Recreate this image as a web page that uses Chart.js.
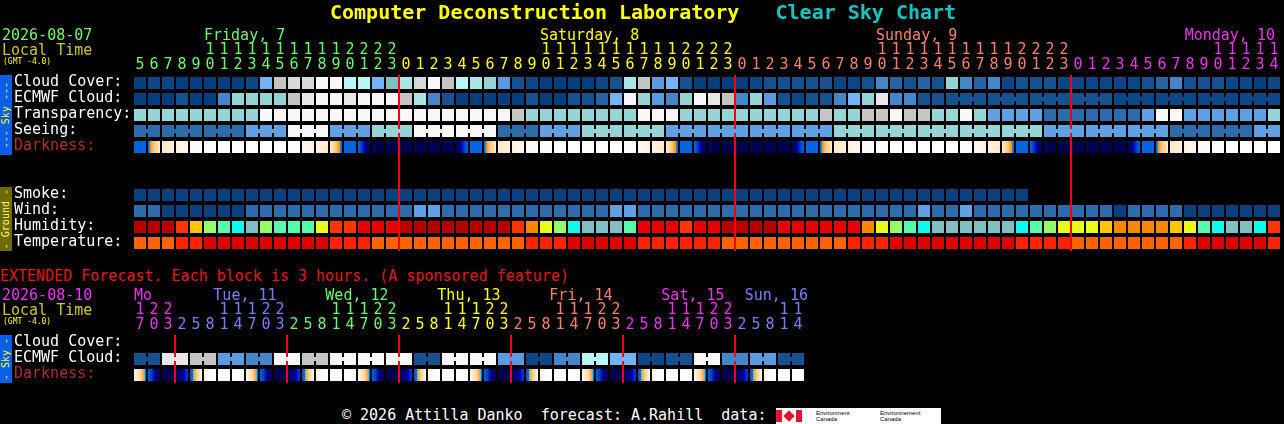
<!DOCTYPE html>
<html>
<head>
<meta charset="utf-8">
<title>Clear Sky Chart</title>
<script src="https://cdn.jsdelivr.net/npm/chart.js"></script>
<style>
  html, body { margin:0; padding:0; background:#000; }
  body { width:1284px; height:424px; position:relative; overflow:hidden; font-family:"DejaVu Sans Mono", monospace; }
  .t { position:absolute; white-space:pre; line-height:1; font-size:15px; }
  .side { position:absolute; left:0; width:12px; display:flex; align-items:center; justify-content:center; overflow:hidden; }
  .side span { writing-mode:vertical-rl; transform:rotate(180deg); font-size:10px; line-height:12px; white-space:pre; }
  .cw { position:absolute; left:0; }
</style>
</head>
<body>
<div class="side" style="top:75px;height:80px;background:#0A5FE8"><span style="color:#FFFF00">--- Sky ---</span></div>
<div class="side" style="top:187px;height:64px;background:#6B6B08"><span style="color:#FFFF66">- Ground -</span></div>
<div class="side" style="top:335px;height:48px;background:#0A5FE8"><span style="color:#FFFF00">- Sky -</span></div>

<div class="cw" style="top:0;width:1284px;height:263px"><canvas id="hourly"></canvas></div>
<div class="cw" style="top:290px;width:810px;height:105px"><canvas id="extended"></canvas></div>

<div class="t" style="left:330px;top:2px;font-size:20px;font-weight:bold;color:#FFFF00">Computer Deconstruction Laboratory   <span style="color:#12C6C6">Clear Sky Chart</span></div>
<div class="t" style="left:2px;top:28px;color:#66FF66">2026-08-07</div>
<div class="t" style="left:2px;top:43px;color:#CCCC00">Local Time</div>
<div class="t" style="left:3px;top:58px;font-size:8px;color:#FFFF00">(GMT -4.0)</div>

<div class="t" style="left:0;top:269px;color:#EE1111">EXTENDED Forecast. Each block is 3 hours. (A sponsored feature)</div>
<div class="t" style="left:2px;top:288px;color:#F030F0">2026-08-10</div>
<div class="t" style="left:2px;top:303px;color:#CCCC00">Local Time</div>
<div class="t" style="left:3px;top:318px;font-size:8px;color:#FFFF00">(GMT -4.0)</div>

<div class="t" style="left:342px;top:408px;color:#FFFFFF">© 2026 Attilla Danko  forecast: A.Rahill  data: </div>
<div style="position:absolute;left:776px;top:408px;width:165px;height:16px;background:#FFFFFF;overflow:hidden">
  <div style="position:absolute;left:0;top:2px;width:6px;height:12px;background:#E8112D"></div>
  <div style="position:absolute;left:9px;top:4px;width:8px;height:8px;background:#E8112D;transform:rotate(45deg)"></div>
  <div style="position:absolute;left:20px;top:2px;width:6px;height:12px;background:#E8112D"></div>
  <div class="t" style="left:40px;top:2px;font-size:6px;line-height:6px;color:#000;font-family:'Liberation Sans',sans-serif">Environment<br>Canada</div>
  <div class="t" style="left:104px;top:2px;font-size:6px;line-height:6px;color:#000;font-family:'Liberation Sans',sans-serif">Environnement<br>Canada</div>
</div>

<script>
// ---------------- DATA ----------------
// Hourly section: local hour of each column (Fri 7 05h ... Mon 10 14h)
const hours = [5,6,7,8,9,10,11,12,13,14,15,16,17,18,19,20,21,22,23,
  0,1,2,3,4,5,6,7,8,9,10,11,12,13,14,15,16,17,18,19,20,21,22,23,
  0,1,2,3,4,5,6,7,8,9,10,11,12,13,14,15,16,17,18,19,20,21,22,23,
  0,1,2,3,4,5,6,7,8,9,10,11,12,13,14];
const dayNames = ['Friday, 7', 'Saturday, 8', 'Sunday, 9', 'Monday, 10'];
const rowLabels = ['Cloud Cover:', 'ECMWF Cloud:', 'Transparency:', 'Seeing:', 'Darkness:', '', '', 'Smoke:', 'Wind:', 'Humidity:', 'Temperature:'];

// Cloud cover shade (0 = clear ... 14 = overcast), one per hour
const cloudCover = [0,1,1,0,0,0,0,0,1,6, 11,12,12,14,14,10,10,6,7,9, 12,14,11,10,9,8,5,2,1,0,
  0,0,0,1,2,9,11,5,6,2, 0,0,0,0,1,2,2,2,2,2, 1,1,2,4,3,2,3,2,8,4,
  3,4,1,2,2,2,1,1,1,1, 1,1,2,3,4,2,2,2,1,1, 0,1];
// ECMWF cloud shade: hourly for the first 58 hours, then 3-hour steps
const ecmwfHourly = [0,0,0,2,0,0,4,8,8,8, 8,11,13,14,14,13,14,14,14,11, 9,4,2,0,0,0,0,0,2,0,
  0,2,2,3,6,14,8,5,4,8, 14,13,11,4,8,5,2,1,2,2, 4,6,8,13,4,4,2,2];
const ecmwf3h = [2,2,2,2,1,1,1,1];
// Transparency (0 too cloudy, 1 poor, 2 below avg, 3 average, 4 above avg, 5 transparent)
const transparency = [2,2,2,2,2,2,2,2,2,0, 0,0,0,0,0,0,0,0,0,0, 0,0,0,0,0,0,0,1,2,2,
  2,2,2,2,2,2,0,0,0,2, 2,2,2,2,2,2,2,2,2,1, 2,2,1,1,0,1,1,2,2,0,
  2,3,3,3,3,4,4,4,4,4, 4,4,3,0,0,3,3,3,3,3, 3,2];
// Seeing per 3-hour forecast step (0 too cloudy ... 5 excellent)
const seeing3h = [4,4,4,3,0,3,2,0,0,4,3,2,2,3,3,3,3,2,2,2,2,2,3,3,3,4,4,3];
// Darkness: limiting magnitude at the start of each hour (negative = daylight/twilight)
const darkness = [2.5,2.5,-1.5,-2.5,-3.2,-3.7,-4,-4,-4,-4,-4,-4,-3.3,-2.5,-1.5,2.5,2.5,6,6,
  6,6,6,6,6,2.5,2.5,-1.5,-2.5,-3.2,-3.7,-4,-4,-4,-4,-4,-4,-3.3,-2.5,-1.5,2.5,2.5,6,6,
  6,6,6,6,6,2.5,2.5,-1.5,-2.5,-3.2,-3.7,-4,-4,-4,-4,-4,-4,-3.3,-2.5,-1.5,2.5,2.5,6,6,
  6,6,6,6,6,2.5,2.5,-1.5,-2.5,-3.2,-3.7,-4,-4,-4,-4];
// Smoke (ug/m3), forecast stops after 64 hours
const smoke = [0,0,0,0,0,0,0,0,0,0, 0,0,0,0,0,0,0,0,0,0, 0,0,0,0,0,0,0,0,0,0,
  0,0,0,0,0,0,0,0,0,0, 0,0,0,0,0,0,0,0,0,0, 0,0,0,0,0,0,0,0,0,0, 0,0,0,0];
// Wind (mph)
const wind = [9,9,4,4,4,4,4,4,9,9, 9,9,9,9,9,9,9,9,9,9, 14,14,9,9,9,9,9,9,9,9,
  9,9,9,9,14,14,9,9,9,9, 9,9,9,9,9,9,9,9,9,9, 9,9,9,9,9,9,14,9,9,14,
  9,9,9,9,9,9,9,9,9,9, 4,9,9,9,9,4,4,4,4,4, 4,4];
// Humidity (%)
const humidity = [93,93,93,83,73,63,58,53,48,63, 58,58,58,68,83,83,88,88,88,93,
  93,93,93,93,93,93,93,83,78,68, 63,53,48,48,48,58,88,88,88,83,
  88,88,93,93,93,93,88,88,88,88, 88,88,78,68,63,58,53,48,48,48,
  48,48,48,53,58,63,68,68,68,73, 78,78,78,78,73,68,58,53,48,48, 53,83];
// Temperature (F)
const temperature = [77,77,77,82,82,87,87,87,87,87, 87,87,87,87,82,82,82,77,77,77,
  77,77,77,77,77,77,77,77,82,82, 82,87,87,87,87,87,82,82,82,82,
  82,82,77,77,77,77,77,77,77,77, 77,82,82,82,87,87,87,87,87,87,
  87,87,87,82,82,82,82,77,77,77, 77,77,77,77,77,82,87,87,87,87, 87,82];

// Extended section: 3-hour blocks (Mon 10 17h ... Sun 16 14h)
const extHours = [17,20,23,
  2,5,8,11,14,17,20,23, 2,5,8,11,14,17,20,23, 2,5,8,11,14,17,20,23,
  2,5,8,11,14,17,20,23, 2,5,8,11,14,17,20,23, 2,5,8,11,14];
const extDayNames = ['Mo', 'Tue, 11', 'Wed, 12', 'Thu, 13', 'Fri, 14', 'Sat, 15', 'Sun, 16'];
const extRowLabels = ['Cloud Cover:', 'ECMWF Cloud:', 'Darkness:'];
// ECMWF cloud shade per 6-hour step
const extEcmwf6h = [2,13,11,5,4,14,11,14,14,14,2,14,14,5,1,4,10,6,1,2,14,4,5,2];
// Darkness at the start of each 3-hour block
const extDarkness = [-3.3,2.5,6,
  6,3.5,-2.5,-4,-4,-3.3,2.5,6, 6,3.5,-2.5,-4,-4,-3.3,2.5,6, 6,3.5,-2.5,-4,-4,-3.3,2.5,6,
  6,3.5,-2.5,-4,-4,-3.3,2.5,6, 6,3.5,-2.5,-4,-4,-3.3,2.5,6, 6,3.5,-2.5,-4,-4];

// ---------------- STYLES / COLOUR SCALES ----------------
const FONT = '"DejaVu Sans Mono", monospace';
const DAY_COLORS = ['#66FF66', '#FFFF00', '#FF7F6F', '#F030F0'];
const EXT_DAY_COLORS = ['#F030F0', '#7C7CFF', '#66FF66', '#FFFF00', '#FF7F6F', '#F030F0', '#7C7CFF'];
const ROW_COLORS = ['#FFFFFF', '#FFFFFF', '#FFFFFF', '#FFFFFF', '#B02A2A', '#FFFFFF', '#FFFFFF', '#FFFFFF', '#FFFFFF', '#FFFFFF', '#FFFFFF'];
const EXT_ROW_COLORS = ['#FFFFFF', '#FFFFFF', '#B02A2A'];
const CLOUD_SHADES = ['#033F7F','#0B4686','#16518F','#2764A4','#4585CA','#5A9AE0','#72B2F6','#80C0C0',
  '#94D4D4','#A6E6E6','#B6F6F6','#C4C4C4','#D8D8D8','#E8E8E8','#F8F8F8'];
const SKY_SHADES = ['#F8F8F8', '#C6C6C6', '#95D5D5', '#60A0E4', '#2C6CAC', '#0A4282'];
const SMOKE_BANDS = [[0, '#0A4080'], [2, '#2C6CAC'], [5, '#60A0E4'], [10, '#95D5D5']];
const WIND_BANDS = [[0, '#0A4080'], [6, '#2C6CAC'], [12, '#60A0E4'], [17, '#95D5D5'], [29, '#C6C6C6'], [46, '#F8F8F8']];
const HUMIDITY_BANDS = [[0,'#08035D'],[25,'#0D4D8D'],[30,'#3070B0'],[35,'#4E8ECE'],[40,'#71B1F1'],[45,'#80C0C0'],
  [50,'#09FEED'],[55,'#55FAAD'],[60,'#94FE6A'],[65,'#EAFB16'],[70,'#FEC600'],[75,'#FC8602'],[80,'#FE3401'],
  [85,'#EA0000'],[90,'#B70000'],[95,'#E10000']];
const TEMP_BANDS = [[50,'#0D4D8D'],[55,'#4E8ECE'],[60,'#80C0C0'],[65,'#55FAAD'],[70,'#FEC600'],[75,'#FF6200'],[80,'#FF2200'],[85,'#E00000'],[90,'#B00000']];
const DARK_STOPS = [[-4,'#FFFFFF'],[-3,'#FFF6EA'],[-2,'#FFECD4'],[-1,'#FFE2BA'],[0.5,'#FFC878'],[1.4,'#FFA020'],
  [1.7,'#FF9000'],[1.8,'#00E0F0'],[2.1,'#0070F0'],[2.5,'#0066E0'],[3.5,'#0040D0'],[4.5,'#0000A0'],[5.5,'#000060'],[6,'#00004E']];
const CELL = 0.375, LINK = 0.125, BAR = 12;

Chart.defaults.font.family = FONT;

function band(v, bands) { let c = bands[0][1]; for (const [t, col] of bands) if (v >= t) c = col; return c; }
function hexRgb(h) { return [parseInt(h.slice(1,3),16), parseInt(h.slice(3,5),16), parseInt(h.slice(5,7),16)]; }
function darkColor(m) {
  if (m <= DARK_STOPS[0][0]) return DARK_STOPS[0][1];
  for (let k = 1; k < DARK_STOPS.length; k++) {
    const [m1, c1] = DARK_STOPS[k];
    if (m <= m1) {
      const [m0, c0] = DARK_STOPS[k - 1];
      const f = (m - m0) / (m1 - m0), a = hexRgb(c0), b = hexRgb(c1);
      return 'rgb(' + a.map((x, i) => Math.round(x + (b[i] - x) * f)).join(',') + ')';
    }
  }
  return DARK_STOPS[DARK_STOPS.length - 1][1];
}
function darknessFill(values, scaleId) {
  return (c) => {
    if (c.type !== 'data') return '#000';
    const i = c.dataIndex, a = values[i], b = i + 1 < values.length ? values[i + 1] : values[i];
    const s = c.chart.scales[scaleId];
    const cx = s ? s.getPixelForValue(i) : NaN;
    if (!isFinite(cx)) return darkColor(a);
    const g = c.chart.ctx.createLinearGradient(cx - BAR / 2, 0, cx + BAR / 2, 0);
    for (let k = 0; k <= 24; k++) g.addColorStop(k / 24, darkColor(a + (b - a) * k / 24));
    return g;
  };
}
const cellAt = (row) => (v) => (v === null || v === undefined) ? null : [row - CELL, row + CELL];
function links(n, stepOf, row, colorOf) {
  const data = [], colors = [];
  for (let b = 0; b <= n; b++) {
    const ok = b > 0 && b < n && stepOf(b - 1) === stepOf(b);
    data.push(ok ? [row - LINK, row + LINK] : null);
    colors.push(ok ? colorOf(b - 1) : 'rgba(0,0,0,0)');
  }
  return { data, colors };
}
function dayIndex(hrs) { let d = 0; return hrs.map((h, i) => { if (i > 0 && h < hrs[i - 1]) d++; return d; }); }
function midnights(hrs) { const s = new Set(); hrs.forEach((h, i) => { if (i > 0 && h < hrs[i - 1]) s.add(i); }); return s; }
const tickLabels = (hrs) => hrs.map(h => [h >= 10 ? String(Math.floor(h / 10)) : '', String(h % 10)]);

function baseOptions(rows, rowColors, axisHeight, mids, days, dayColors, nBound, padRight) {
  return {
    responsive: true, maintainAspectRatio: false, animation: false, events: [],
    layout: { padding: { left: 14, right: padRight, top: 0, bottom: 12 } },
    plugins: { legend: { display: false }, tooltip: { enabled: false } },
    datasets: { bar: { grouped: false, borderWidth: 0, inflateAmount: 0, barThickness: BAR } },
    scales: {
      x: {
        type: 'category', position: 'top', offset: true,
        grid: { offset: true, drawTicks: false,
          color: c => mids.has(c.index) ? '#FF0000' : 'rgba(0,0,0,0)',
          lineWidth: c => mids.has(c.index) ? 2 : 0 },
        border: { display: false },
        ticks: { autoSkip: false, maxRotation: 0, minRotation: 0, padding: 2,
          font: { family: FONT, size: 15, lineHeight: 1 },
          color: c => dayColors[days[c.index]] },
        afterFit: s => { s.height = axisHeight; }
      },
      x2: { type: 'category', labels: Array.from({ length: nBound + 1 }, (_, i) => String(i)), offset: false, display: false },
      y: {
        type: 'linear', min: -0.5, max: rows.length - 0.5, reverse: true,
        grid: { display: false }, border: { display: false },
        afterBuildTicks: s => { s.ticks = rows.map((_, i) => ({ value: i })); },
        ticks: { autoSkip: false, crossAlign: 'far', padding: 0, labelOffset: -1,
          font: { family: FONT, size: 15, lineHeight: 1 },
          color: c => rowColors[c.index], callback: (v, i) => rows[i] },
        afterFit: s => { s.width = 119; }
      }
    }
  };
}

// ---------------- HOURLY CHART ----------------
const N = hours.length;
const ecmwfStep = i => i < ecmwfHourly.length ? 'h' + i : 's' + Math.floor((i - ecmwfHourly.length) / 3);
const ecmwfCells = hours.map((_, i) => i < ecmwfHourly.length ? ecmwfHourly[i] : ecmwf3h[Math.floor((i - ecmwfHourly.length) / 3)]);
const seeingStep = i => Math.floor((i + 1) / 3);   // first step (centred on 05h) only covers 05h-06h
const seeingCells = hours.map((_, i) => seeing3h[seeingStep(i)]);
const ecmwfLinks = links(N, ecmwfStep, 1, i => CLOUD_SHADES[ecmwfCells[i]]);
const seeingLinks = links(N, seeingStep, 3, i => SKY_SHADES[seeingCells[i]]);
const daysA = dayIndex(hours), midsA = midnights(hours);

const hourly = new Chart(document.getElementById('hourly'), {
  type: 'bar',
  data: {
    labels: tickLabels(hours),
    datasets: [
      { label: 'Cloud Cover', data: cloudCover.map(cellAt(0)), backgroundColor: cloudCover.map(v => CLOUD_SHADES[v]) },
      { label: 'ECMWF Cloud', data: ecmwfCells.map(cellAt(1)), backgroundColor: ecmwfCells.map(v => CLOUD_SHADES[v]) },
      { label: 'ECMWF steps', xAxisID: 'x2', barThickness: 4, data: ecmwfLinks.data, backgroundColor: ecmwfLinks.colors },
      { label: 'Transparency', data: transparency.map(cellAt(2)), backgroundColor: transparency.map(v => SKY_SHADES[v]) },
      { label: 'Seeing', data: seeingCells.map(cellAt(3)), backgroundColor: seeingCells.map(v => SKY_SHADES[v]) },
      { label: 'Seeing steps', xAxisID: 'x2', barThickness: 4, data: seeingLinks.data, backgroundColor: seeingLinks.colors },
      { label: 'Darkness', data: darkness.map(cellAt(4)), backgroundColor: darknessFill(darkness, 'x') },
      { label: 'Smoke', data: smoke.map(cellAt(7)), backgroundColor: smoke.map(v => band(v, SMOKE_BANDS)) },
      { label: 'Wind', data: wind.map(cellAt(8)), backgroundColor: wind.map(v => band(v, WIND_BANDS)) },
      { label: 'Humidity', data: humidity.map(cellAt(9)), backgroundColor: humidity.map(v => band(v, HUMIDITY_BANDS)) },
      { label: 'Temperature', data: temperature.map(cellAt(10)), backgroundColor: temperature.map(v => band(v, TEMP_BANDS)) }
    ]
  },
  options: baseOptions(rowLabels, ROW_COLORS, 75, midsA, daysA, DAY_COLORS, N, 3)
});

// ---------------- EXTENDED CHART ----------------
const M = extHours.length;
const extStep = j => Math.floor(j / 2);
const extEcmwfCells = extHours.map((_, j) => extEcmwf6h[extStep(j)]);
const extLinks = links(M, extStep, 1, j => CLOUD_SHADES[extEcmwfCells[j]]);
const daysB = dayIndex(extHours), midsB = midnights(extHours);

const extended = new Chart(document.getElementById('extended'), {
  type: 'bar',
  data: {
    labels: tickLabels(extHours),
    datasets: [
      { label: 'ECMWF Cloud', data: extEcmwfCells.map(cellAt(1)), backgroundColor: extEcmwfCells.map(v => CLOUD_SHADES[v]) },
      { label: 'ECMWF steps', xAxisID: 'x2', barThickness: 4, data: extLinks.data, backgroundColor: extLinks.colors },
      { label: 'Darkness', data: extDarkness.map(cellAt(2)), backgroundColor: darknessFill(extDarkness, 'x') }
    ]
  },
  options: baseOptions(extRowLabels, EXT_ROW_COLORS, 45, midsB, daysB, EXT_DAY_COLORS, M, 5)
});

// ---------------- DAY NAMES (placed at 10:00 of each day on the chart's time axis) ----------------
function placeDays(chart, hrs, names, colors, days, stepHours, topPx, rightLimit) {
  const s = chart.scales.x;
  const box = chart.canvas.getBoundingClientRect();
  const pitch = s.getPixelForValue(1) - s.getPixelForValue(0);
  const firstLeft = s.getPixelForValue(0) - BAR / 2 + box.left;
  names.forEach((name, d) => {
    const i0 = days.indexOf(d);
    const el = document.createElement('div');
    el.className = 't';
    el.style.color = colors[d];
    el.style.top = topPx + 'px';
    el.textContent = name;
    document.body.appendChild(el);
    const w = el.getBoundingClientRect().width;
    let x = s.getPixelForValue(i0) - BAR / 2 + box.left + (10 - hrs[i0]) / stepHours * pitch;
    x = Math.max(firstLeft, Math.min(x, rightLimit - w));
    el.style.left = x + 'px';
  });
}
placeDays(hourly, hours, dayNames, DAY_COLORS, daysA, 1, 28, 1275);
placeDays(extended, extHours, extDayNames, EXT_DAY_COLORS, daysB, 3, 288, 808);
</script>
</body>
</html>
